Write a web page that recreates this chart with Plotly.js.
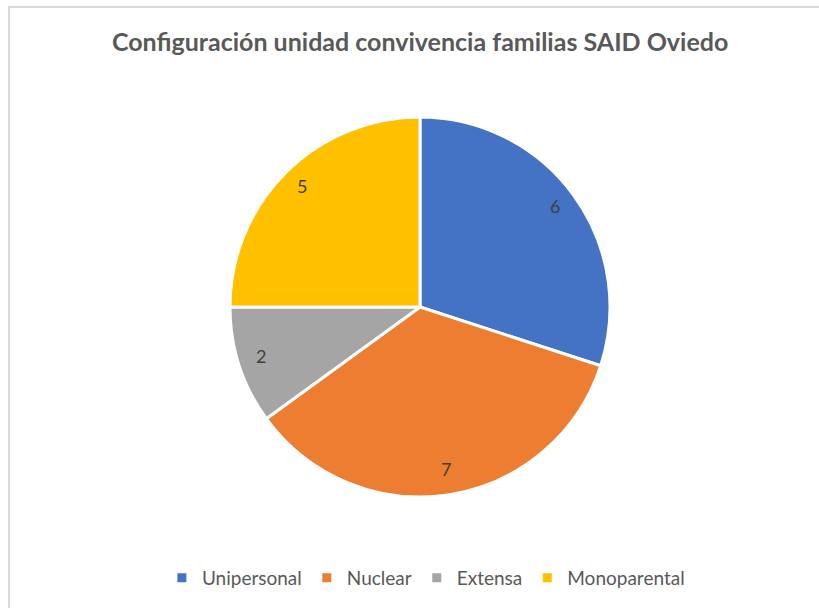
<!DOCTYPE html>
<html>
<head>
<meta charset="utf-8">
<script src="https://cdn.plot.ly/plotly-3.0.1.min.js"></script>
<style>
html,body{margin:0;padding:0;background:#fff;}
#frame{position:absolute;left:8px;top:6px;width:811px;height:602px;border-left:2px solid #d9d9d9;border-top:2px solid #d9d9d9;box-sizing:border-box;pointer-events:none;}
#chart{width:819px;height:608px;}
</style>
</head>
<body>
<div id="chart"></div>
<div id="frame"></div>
<script>
const categories = ["Unipersonal", "Nuclear", "Extensa", "Monoparental"];
const values = [6, 7, 2, 5];
const colors = ["#4472C4", "#ED7D31", "#A5A5A5", "#FFC000"];
const chartTitle = "Configuración unidad convivencia familias SAID Oviedo";

const W = 819, H = 608;
const cx = 420, cy = 307, R = 190;
const domX = [(cx - R) / W, (cx + R) / W];
const domY = [(H - cy - R) / H, (H - cy + R) / H];

// label annotations along each slice bisector
const total = values.reduce((a, b) => a + b, 0);
let acc = 0;
const annotations = values.map((v) => {
  const mid = (acc + v / 2) / total * 2 * Math.PI;
  acc += v;
  const rr = 0.88 * R;
  const px = cx + rr * Math.sin(mid);
  const py = cy - rr * Math.cos(mid) - 3;
  return {
    x: px / W, y: 1 - py / H, xref: "paper", yref: "paper",
    text: String(v), showarrow: false,
    font: {family: "Lato, 'Open Sans', sans-serif", size: 18, color: "#404040"},
    xanchor: "center", yanchor: "middle"
  };
});

const data = [{
  type: "pie",
  labels: categories,
  values: values,
  sort: false,
  direction: "clockwise",
  rotation: 0,
  marker: {colors: colors, line: {color: "#ffffff", width: 3}},
  textinfo: "none",
  hoverinfo: "label+value",
  domain: {x: domX, y: domY}
}];

const layout = {
  width: W, height: H,
  margin: {l: 0, r: 0, t: 0, b: 0},
  paper_bgcolor: "#ffffff",
  title: {
    text: "<b>" + chartTitle + "</b>",
    x: 0.513, xanchor: "center", y: 1 - 42 / H, yanchor: "middle",
    font: {family: "Lato, 'Open Sans', sans-serif", size: 25, color: "#595959"}
  },
  showlegend: true,
  legend: {
    orientation: "h", x: 0.52, xanchor: "center", y: 1 - 578 / H, yanchor: "middle",
    font: {family: "Lato, 'Open Sans', sans-serif", size: 19, color: "#595959"},
    itemwidth: 30, tracegroupgap: 0
  },
  annotations: annotations
};

Plotly.newPlot("chart", data, layout, {displayModeBar: false, staticPlot: true});
</script>
</body>
</html>
